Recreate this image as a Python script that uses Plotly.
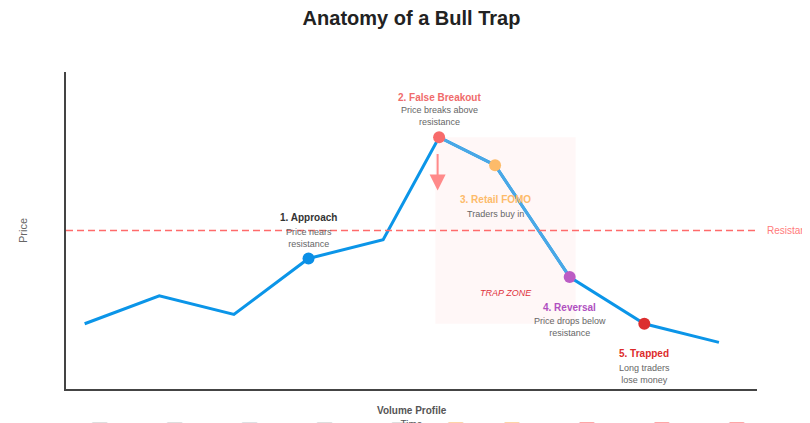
import plotly.graph_objects as go

# price path
time_x = [0, 1, 2, 3, 4, 4.75, 5.5, 6.5, 7.5, 8.5]
price = [95, 98, 96, 102, 104, 115, 112, 100, 95, 93]
resistance = 105

# the trap segment (drawn lighter on top)
trap_x = [4.75, 5.5, 6.5]
trap_y = [115, 112, 100]

# volume profile (only the tops show in the view)
volume = [30, 32, 28, 35, 40, 85, 90, 75, 65, 55]
vol_colors = ["rgba(200,200,200,0.6)"] * 5 + ["rgba(255,184,108,0.6)"] * 2 + ["rgba(255,107,107,0.6)"] * 3

# stages
stage_x = [3, 4.75, 5.5, 6.5, 7.5]
stage_y = [102, 115, 112, 100, 95]
stage_colors = ["#0b8fe6", "#f76b6b", "#fdbb6a", "#bb5cc4", "#dc2f2f"]
stage_titles = ["1. Approach", "2. False Breakout", "3. Retail FOMO", "4. Reversal", "5. Trapped"]
stage_text = ["Price nears<br>resistance", "Price breaks above<br>resistance", "Traders buy in",
              "Price drops below<br>resistance", "Long traders<br>lose money"]
title_colors = ["#333333", "#f06b6b", "#fdbb6a", "#b050c0", "#dd2b2b"]
title_shift = [41, 40, -34, -30, -30]
text_shift = [20, 21, -49, -50, -50]

H = 600
FONT = "Arial, Liberation Sans, sans-serif"

fig = go.Figure()

fig.add_trace(go.Scatter(x=time_x, y=price, mode="lines",
                         line=dict(color="#0b95e8", width=3), hoverinfo="skip"))
fig.add_trace(go.Scatter(x=trap_x, y=trap_y, mode="lines",
                         line=dict(color="#4aa8e6", width=3), hoverinfo="skip"))
fig.add_trace(go.Scatter(x=stage_x, y=stage_y, mode="markers",
                         marker=dict(size=12, color=stage_colors), hoverinfo="skip"))

fig.add_trace(go.Bar(x=time_x, y=volume, marker_color=vol_colors, width=0.2,
                     xaxis="x2", yaxis="y2", hoverinfo="skip"))

# trap zone box + resistance
fig.add_shape(type="rect", x0=4.7, x1=6.58, y0=95, y1=115, xref="x", yref="y",
              fillcolor="rgba(255,107,107,0.05)", line_width=0, layer="below")
fig.add_shape(type="line", x0=0, x1=1, y0=resistance, y1=resistance, xref="paper", yref="y",
              line=dict(color="#ff6b6b", width=1.5, dash="7px,4px"))

ann = []
for i in range(len(stage_x)):
    ann.append(dict(x=stage_x[i], y=stage_y[i], text="<b>" + stage_titles[i] + "</b>",
                    showarrow=False, yshift=title_shift[i], yanchor="middle",
                    font=dict(size=10, color=title_colors[i], family=FONT)))
    ann.append(dict(x=stage_x[i], y=stage_y[i], text=stage_text[i],
                    showarrow=False, yshift=text_shift[i], yanchor="middle",
                    font=dict(size=9, color="#666666", family=FONT)))

ann.append(dict(x=5.64, y=98.3, text="<i>TRAP ZONE</i>", showarrow=False,
                font=dict(size=9, color="#e0303a", family=FONT)))
ann.append(dict(x=1.0, xref="paper", y=resistance, text="Resistance", showarrow=False,
                xanchor="left", xshift=8, font=dict(size=10, color="#ff7b7b", family=FONT)))
ann.append(dict(x=4.73, y=109.3, ax=0, ay=-38, text="", showarrow=True,
                arrowhead=2, arrowsize=1.6, arrowwidth=2, arrowcolor="#ff8a8a"))
ann.append(dict(x=0.5, y=0.3185, xref="paper", yref="paper", text="<b>Volume Profile</b>",
                showarrow=False, yanchor="middle",
                font=dict(size=10, color="#555555", family=FONT)))

fig.update_layout(
    width=810, height=H,
    paper_bgcolor="white", plot_bgcolor="white",
    margin=dict(l=58, r=61, t=64, b=40),
    showlegend=False,
    font=dict(family=FONT),
    title=dict(text="<b>Anatomy of a Bull Trap</b>", x=0.5, xref="paper",
               y=1 - 10 / H, yref="container", yanchor="middle",
               font=dict(size=20, color="#222222", family=FONT)),
    xaxis=dict(domain=[0, 1], range=[-0.25, 9.01], showgrid=False, zeroline=False,
               showticklabels=False, ticks="", showline=True, linecolor="#444444", linewidth=2,
               title=dict(text="Time", standoff=31, font=dict(size=10, color="#555555"))),
    yaxis=dict(domain=[0.3609, 1], range=[88, 122], showgrid=False, zeroline=False,
               showticklabels=False, ticks="", showline=True, linecolor="#444444", linewidth=2,
               title=dict(text="Price", standoff=34, font=dict(size=11, color="#666666"))),
    xaxis2=dict(domain=[0, 1], range=[-0.45, 8.77], showgrid=False, zeroline=False,
                showticklabels=False, showline=False, anchor="y2"),
    yaxis2=dict(domain=[0, 0.2944], range=[0, min(volume)], showgrid=False, zeroline=False,
                showticklabels=False, showline=False, anchor="x2"),
    annotations=ann,
)

fig.write_html("out.html")
